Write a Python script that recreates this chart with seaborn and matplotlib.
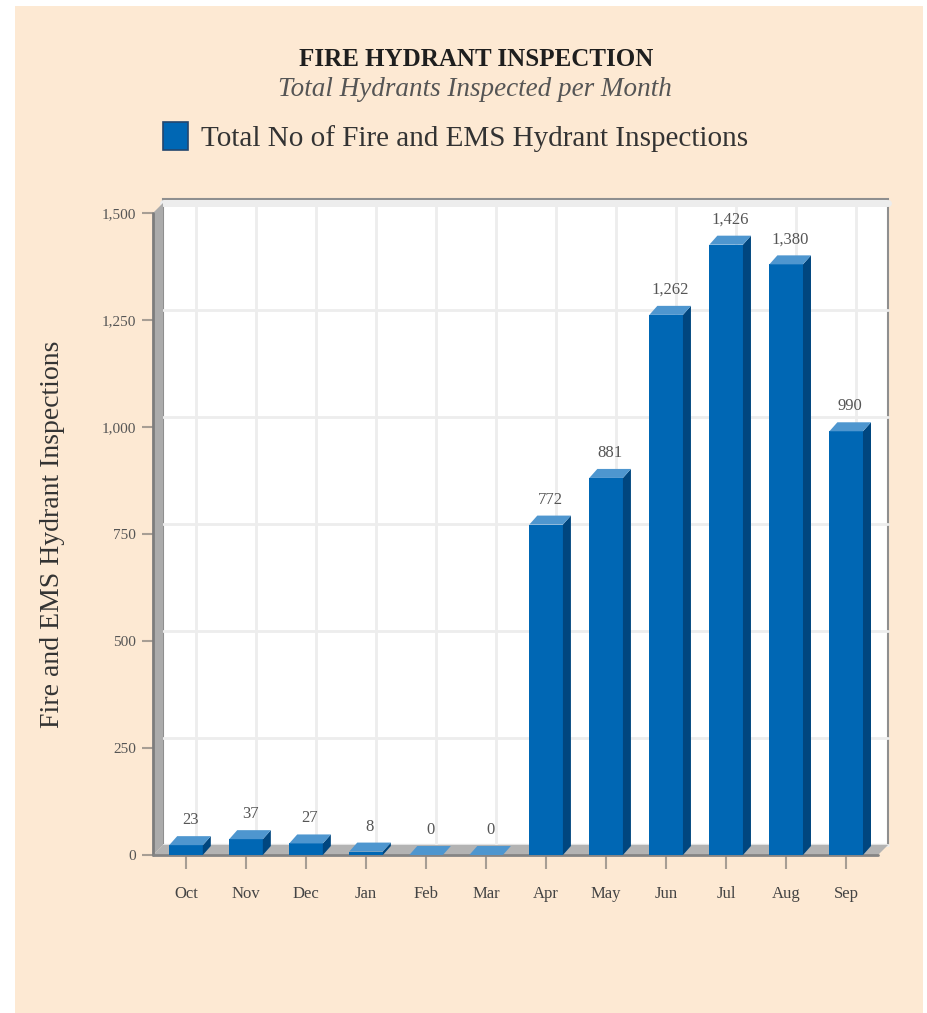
import numpy as np
import pandas as pd
import matplotlib
matplotlib.use("Agg")
import matplotlib.pyplot as plt
import matplotlib.transforms as mtransforms
import seaborn as sns
from matplotlib.patches import Polygon, Rectangle, Patch
from matplotlib.ticker import FuncFormatter

# ---- data ----
months = ["Oct", "Nov", "Dec", "Jan", "Feb", "Mar", "Apr", "May", "Jun", "Jul", "Aug", "Sep"]
inspections = [23, 37, 27, 8, 0, 0, 772, 881, 1262, 1426, 1380, 990]
y_ticks = [0, 250, 500, 750, 1000, 1250, 1500]

title = "FIRE HYDRANT INSPECTION"
subtitle = "Total Hydrants Inspected per Month"
series_name = "Total No of Fire and EMS Hydrant Inspections"
y_label = "Fire and EMS Hydrant Inspections"

# ---- style ----
PEACH = "#fde9d3"
BLUE_FRONT = "#0067b4"
BLUE_TOP = "#4e96cf"
BLUE_SIDE = "#00467f"
W, H, DPI = 927, 1013, 100
WALL_D = (10, 10)   # depth of back wall, px
BAR_D = (8, 9)      # depth of bars, px

sns.set_theme(style="white")
plt.rcParams["font.family"] = ["Liberation Serif", "DejaVu Serif"]

df = pd.DataFrame({"month": months, "count": inspections})

fig = plt.figure(figsize=(W / DPI, H / DPI), dpi=DPI, facecolor="white")
fig.add_artist(Rectangle((15 / W, 0), (W - 19) / W, (H - 6) / H, transform=fig.transFigure,
                         facecolor=PEACH, edgecolor="none", zorder=-10))

ax = fig.add_axes([153 / W, 1 - 855 / H, 725 / W, 642 / H])
ax.set_facecolor("none")
for s in ax.spines.values():
    s.set_visible(False)

sns.barplot(data=df, x="month", y="count", order=months, color=BLUE_FRONT, saturation=1,
            width=0.56, errorbar=None, ax=ax, zorder=3, linewidth=0)
ax.set_xlim(-0.55, 11.53)
ax.set_ylim(0, 1500)


def shift(pts, d):
    """data points -> shifted by d pixels -> back to data"""
    disp = ax.transData.transform(pts) + np.array(d)
    return ax.transData.inverted().transform(disp)


def axes_pts(pts):
    return ax.transData.inverted().transform(ax.transAxes.transform(pts))


# back wall + grid
off = mtransforms.ScaledTranslation(WALL_D[0] / DPI, WALL_D[1] / DPI, fig.dpi_scale_trans)
ax.add_patch(Rectangle((0, 0), 1, 1.006, transform=ax.transAxes + off, facecolor="white",
                       edgecolor="#8f8f8f", lw=1.5, clip_on=False, zorder=0))
x0, x1 = ax.get_xlim()
for yt in y_ticks:
    ax.plot([x0, x1], [yt, yt], transform=ax.transData + off, color="#ededed",
            lw=5 if yt == 1500 else 2, clip_on=False, zorder=0.5)
for i in range(len(months)):
    ax.plot([i, i], [0, 1500], transform=ax.transData + off, color="#ededed", lw=2,
            clip_on=False, zorder=0.5)

# left wall and floor
lw_front = axes_pts([[0, 0], [0, 1]])
ax.add_patch(Polygon(np.vstack([lw_front, shift(lw_front[::-1], WALL_D)]), closed=True,
                     facecolor="#ababab", edgecolor="none", clip_on=False, zorder=1))
ax.plot(lw_front[:, 0], lw_front[:, 1], color="#7d7d7d", lw=2, clip_on=False, zorder=1.2)
fl_front = axes_pts([[0, 0], [1, 0]])
ax.add_patch(Polygon(np.vstack([fl_front, shift(fl_front[::-1], WALL_D)]), closed=True,
                     facecolor="#b3b3b3", edgecolor="none", clip_on=False, zorder=1))
ax.plot(fl_front[:, 0], fl_front[:, 1], color="#858585", lw=2, clip_on=False, zorder=1.2)

# 3D faces for the bars
for p, v in zip(ax.patches, inspections):
    bx, bw, bh = p.get_x(), p.get_width(), p.get_height()
    br_tr = np.array([[bx + bw, 0], [bx + bw, bh]])
    ax.add_patch(Polygon(np.vstack([br_tr, shift(br_tr[::-1], BAR_D)]), closed=True,
                         facecolor=BLUE_SIDE, edgecolor="none", clip_on=False, zorder=3.1))
    tl_tr = np.array([[bx, bh], [bx + bw, bh]])
    ax.add_patch(Polygon(np.vstack([tl_tr, shift(tl_tr[::-1], BAR_D)]), closed=True,
                         facecolor=BLUE_TOP, edgecolor="none", clip_on=False, zorder=3.2))
    ax.annotate(f"{v:,}", xy=(bx + bw / 2, bh), xytext=(BAR_D[0] / 2, 25),
                textcoords="offset pixels", ha="center", va="center", fontsize=12,
                color="#555555", zorder=5)

# axes text
ax.set_yticks(y_ticks)
ax.yaxis.set_major_formatter(FuncFormatter(lambda v, _: f"{int(v):,}"))
ax.tick_params(axis="y", left=True, length=8, width=1.5, color="#a79e94", pad=4,
               labelsize=11, labelcolor="#555555")
ax.tick_params(axis="x", bottom=True, length=10, width=1.5, color="#a79e94", pad=12,
               labelsize=12, labelcolor="#444444")
ax.set_xlabel("")
ax.set_ylabel(y_label, fontsize=20, color="#333333")
ax.yaxis.set_label_coords(-0.121, 0.5)

fig.text(476 / W, 1 - 60 / H, title, ha="center", va="center", fontsize=18,
         fontweight="bold", color="#1e1e1e")
fig.text(475 / W, 1 - 90 / H, subtitle, ha="center", va="center", fontsize=19.5,
         style="italic", color="#555555")
fig.legend(handles=[Patch(facecolor=BLUE_FRONT, edgecolor="#23466e", lw=1.2)],
           labels=[series_name], loc="center", bbox_to_anchor=(456 / W, 1 - 137 / H),
           frameon=False, fontsize=21, handlelength=0.85, handleheight=1.1,
           handletextpad=0.45, labelcolor="#333333")

fig.savefig("out.png", dpi=DPI, facecolor=fig.get_facecolor())
